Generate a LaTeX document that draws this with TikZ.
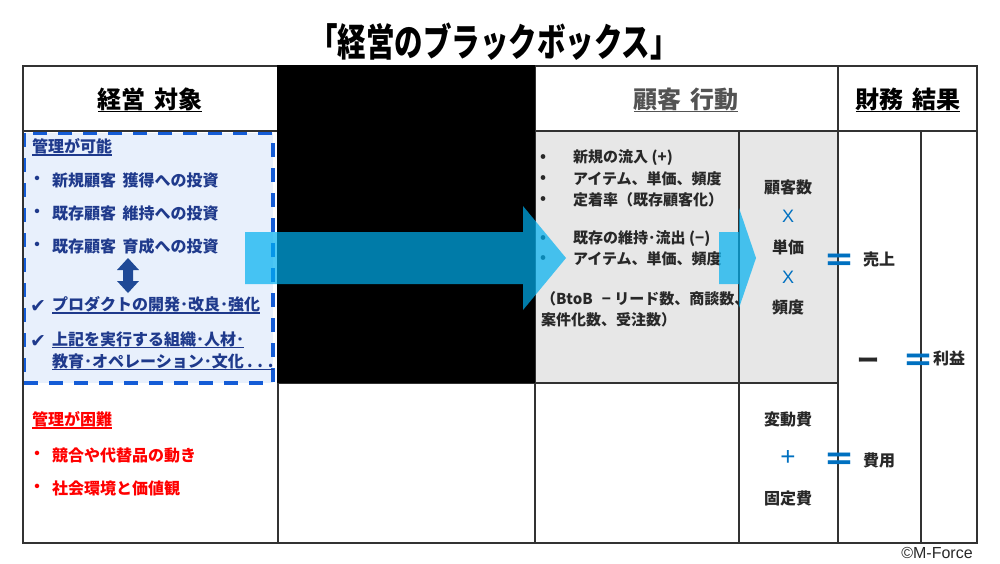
\documentclass[tikz,border=0pt]{standalone}
\usepackage{fontspec}
\usepackage{graphicx}
\usepackage{xcolor}
\usepackage{tikz}
\usetikzlibrary{calc,positioning}

\newfontfamily\jp{Noto Sans CJK JP}
\newfontfamily\dejavu{DejaVu Sans}
\setmainfont{Liberation Sans}
\newcommand\fs[1]{\fontsize{#1}{#1}\selectfont}
% underline with a heavier rule
\newcommand\undr[2][3pt]{\setbox0\hbox{#2}\rlap{\raisebox{-#1}{\rule{\wd0}{1.3pt}}}\box0}

\definecolor{navy}{RGB}{31,58,140}
\definecolor{dashblue}{RGB}{20,92,214}
\definecolor{boxfill}{RGB}{232,240,252}
\definecolor{grayfill}{RGB}{231,231,231}
\definecolor{ink}{RGB}{40,40,40}
\definecolor{linegray}{RGB}{50,50,50}
\definecolor{opblue}{RGB}{0,112,192}
\definecolor{arrowblue}{RGB}{0,176,240}
\definecolor{dblarrow}{RGB}{31,73,150}

\begin{document}
\begin{tikzpicture}[
  x=1pt, y=-1pt,
  txt/.style={anchor=west,inner sep=0pt,font=\jp\bfseries\fs{16}},
  bluetxt/.style={txt,text=navy},
  redtxt/.style={txt,text=red},
  graytxt/.style={txt,text=ink,font=\jp\bfseries\fs{15}},
  head/.style={inner sep=0pt,font=\jp\bfseries\fs{24}},
  calc/.style={inner sep=0pt,font=\jp\bfseries\fs{16},text=ink},
  op/.style={inner sep=0pt,font=\fs{18},text=opblue},
  eq/.style={inner sep=0pt,font=\jp\bfseries\fs{32},text=opblue},
  grid/.style={line width=1.5pt,draw=linegray},
  bigarrow/.style={fill=arrowblue,opacity=0.7}
]
\useasboundingbox (0,0) rectangle (1000,563);

% --- title
\node[inner sep=0pt,font=\jp\bfseries\fs{28.5}] (title) at (494,42)
  {\scalebox{1}[1.35]{「経営のブラックボックス」}};

% --- backgrounds
\fill[grayfill] (535,131) rectangle (838,383);
\fill[boxfill] (24,133) rectangle (273,383);
\draw[dashblue,line width=3.5pt,dash pattern=on 14pt off 11pt] (24,133) rectangle (273,383);

% --- table grid
\draw[grid] (23,66) rectangle (977,543);
\draw[grid] (23,131) -- (977,131);
\draw[grid] (278,66) -- (278,543);
\draw[grid] (535,66) -- (535,543);
\draw[grid] (739,131) -- (739,543);
\draw[grid] (838,66) -- (838,543);
\draw[grid] (921,131) -- (921,543);
\draw[grid] (278,383) -- (838,383);

% --- the black box
\fill[black] (277,65) rectangle (535,383);

% --- column headers
\node[head] (hdrA) at (150,100) {\undr[4pt]{経営\hspace{.35em}対象}};
\node[head,text=ink!80] (hdrB) at (686,100) {\undr[4pt]{顧客\hspace{.35em}行動}};
\node[head] (hdrC) at (908,100) {\undr[4pt]{財務\hspace{.35em}結果}};

% --- manageable (blue)
\node[bluetxt] (canA) at (32,147) {\undr{管理が可能}};
\foreach \y/\t [count=\i] in {180/新規顧客\hspace{.4em}獲得への投資,
                               213/既存顧客\hspace{.4em}維持への投資,
                               246/既存顧客\hspace{.4em}育成への投資} {
  \node[bluetxt] (dotA\i) at (29,\y) {・};
  \node[bluetxt] (invA\i) at (52,\y) {\t};
}
\fill[dblarrow] (128,258) -- (139,270) -- (133,270) -- (133,281) -- (139,281)
  -- (128,293) -- (117,281) -- (123,281) -- (123,270) -- (117,270) -- cycle;
\node[bluetxt,font=\dejavu\bfseries\fs{19}] (chkA) at (30,306) {✔};
\node[bluetxt] (prodA) at (52,305) {\undr{プロダクトの開発･改良･強化}};
\node[bluetxt,font=\dejavu\bfseries\fs{19}] (chkB) at (30,341) {✔};
\node[bluetxt] (orgA) at (52,340) {\undr{上記を実行する組織･人材･}};
\node[bluetxt] (orgB) at (52,362) {\undr{教育･オペレーション･文化\hspace{.2em}.\hspace{.3em}.\hspace{.3em}.}};

% --- hard to manage (red)
\node[redtxt] (hardA) at (32,420) {\undr{管理が困難}};
\node[redtxt] (dotB1) at (29,455) {・};
\node[redtxt] (hardB) at (52,455) {競合や代替品の動き};
\node[redtxt] (dotB2) at (29,488) {・};
\node[redtxt] (hardC) at (52,488) {社会環境と価値観};

% --- customer behaviour (gray)
\foreach \y/\t [count=\i] in {158/新規の流入 (+), 179/アイテム、単価、頻度,
                               200/定着率（既存顧客化）, 239/既存の維持･流出 (−),
                               259/アイテム、単価、頻度} {
  \node[graytxt] (bul\i) at (540,\y) {•};
  \node[graytxt] (act\i) at (573,\y) {\t};
}
\node[graytxt] (btobA) at (541,299) {（BtoB\hspace{.6em}− リード数、商談数、};
\node[graytxt] (btobB) at (541,320) {案件化数、受注数）};

% --- sales / cost formulas
\node[calc] (cust)  at (788,187) {顧客数};
\node[op]   (x1)    at (788,216) {X};
\node[calc] (price) at (788,247) {単価};
\node[op]   (x2)    at (788,277) {X};
\node[calc] (freq)  at (788,307) {頻度};
\node[calc] (varc)  at (788,419) {変動費};
\node[op,font=\fs{26}] (plus) at (788,458) {+};
\node[calc] (fixc)  at (788,498) {固定費};

% --- finance
\node[eq]   (eqA)    at (839,263) {＝};
\node[calc,anchor=west] (sales) at (863,259) {売上};
\node[inner sep=0pt,font=\jp\bfseries\fs{22},text=ink] (minus) at (868,363) {ー};
\node[eq]   (eqB)    at (918,363) {＝};
\node[calc,anchor=west] (profit) at (933,358) {利益};
\node[eq]   (eqC)    at (839,462) {＝};
\node[calc,anchor=west] (cost) at (863,460) {費用};

% --- arrows (translucent, over everything)
\fill[bigarrow] (245,232) -- (523,232) -- (523,206) -- (566,258)
  -- (523,310) -- (523,284) -- (245,284) -- cycle;
\fill[bigarrow] (719,232) -- (739,232) -- (739,208) -- (756,258)
  -- (739,308) -- (739,284) -- (719,284) -- cycle;

\node[inner sep=0pt,font=\fs{16},text=ink] (copy) at (937,553) {©M-Force};
\end{tikzpicture}
\end{document}
